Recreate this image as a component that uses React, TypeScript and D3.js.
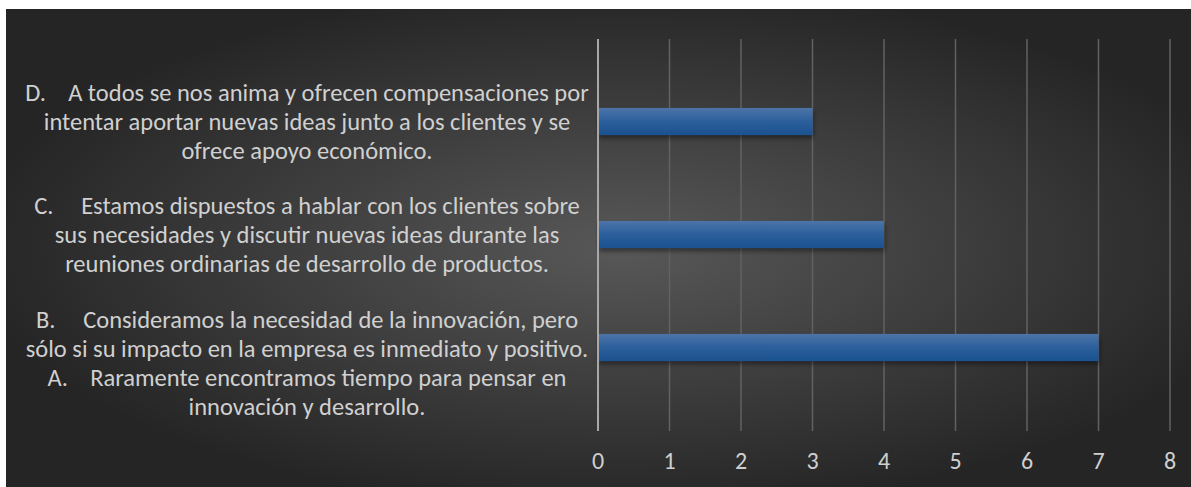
import { useEffect, useRef } from "react";
import * as d3 from "d3";

const categories = ["A", "B", "C", "D"];
const values = [0, 7, 4, 3];
const labels = [
  ["A.    Raramente encontramos tiempo para pensar en", "innovación y desarrollo."],
  ["B.     Consideramos la necesidad de la innovación, pero", "sólo si su impacto en la empresa es inmediato y positivo."],
  [
    "C.     Estamos dispuestos a hablar con los clientes sobre",
    "sus necesidades y discutir nuevas ideas durante las",
    "reuniones ordinarias de desarrollo de productos.",
  ],
  [
    "D.    A todos se nos anima y ofrecen compensaciones por",
    "intentar aportar nuevas ideas junto a los clientes y se",
    "ofrece apoyo económico.",
  ],
];
const xTicks = [0, 1, 2, 3, 4, 5, 6, 7, 8];

const FONT = "Carlito, 'Liberation Sans Narrow', 'Noto Sans', sans-serif";

export default function App() {
  const svgRef = useRef<SVGSVGElement | null>(null);

  useEffect(() => {
    const width = 1191;
    const height = 487;
    const svg = d3.select(svgRef.current);
    svg.selectAll("*").remove();
    svg.attr("width", width).attr("height", height);

    const defs = svg.append("defs");
    const bg = defs
      .append("radialGradient")
      .attr("id", "bg")
      .attr("cx", "52%")
      .attr("cy", "50%")
      .attr("r", "55%");
    bg.append("stop").attr("offset", "0%").attr("stop-color", "#585858");
    bg.append("stop").attr("offset", "100%").attr("stop-color", "#252525");

    const barGrad = defs
      .append("linearGradient")
      .attr("id", "bar")
      .attr("x1", 0)
      .attr("y1", 0)
      .attr("x2", 0)
      .attr("y2", 1);
    barGrad.append("stop").attr("offset", "0%").attr("stop-color", "#4c74a8");
    barGrad.append("stop").attr("offset", "50%").attr("stop-color", "#2c5f9b");
    barGrad.append("stop").attr("offset", "100%").attr("stop-color", "#1a518f");

    const shadow = defs
      .append("filter")
      .attr("id", "shadow")
      .attr("x", "-10%")
      .attr("y", "-50%")
      .attr("width", "120%")
      .attr("height", "200%");
    shadow
      .append("feDropShadow")
      .attr("dx", 1)
      .attr("dy", 3)
      .attr("stdDeviation", 2.5)
      .attr("flood-color", "#000")
      .attr("flood-opacity", 0.45);

    svg
      .append("rect")
      .attr("x", 6)
      .attr("y", 9)
      .attr("width", width - 6)
      .attr("height", height - 9)
      .attr("fill", "url(#bg)");

    const plotTop = 39;
    const plotBottom = 431;

    const x = d3.scaleLinear().domain([0, 8]).range([598, 1170]);
    const y = d3
      .scaleBand()
      .domain(categories)
      .range([517, 65])
      .paddingInner(0.76)
      .paddingOuter(0.38);

    // gridlines
    svg
      .append("g")
      .selectAll("line")
      .data(xTicks.filter((t) => t > 0))
      .join("line")
      .attr("x1", (d) => x(d))
      .attr("x2", (d) => x(d))
      .attr("y1", plotTop)
      .attr("y2", plotBottom)
      .attr("stroke", "#626262")
      .attr("stroke-width", 1.5);

    // bars
    svg
      .append("g")
      .selectAll("rect")
      .data(categories.map((c, i) => ({ c, v: values[i] })).filter((d) => d.v > 0))
      .join("rect")
      .attr("x", x(0))
      .attr("y", (d) => y(d.c)!)
      .attr("width", (d) => x(d.v) - x(0))
      .attr("height", y.bandwidth())
      .attr("fill", "url(#bar)")
      .attr("filter", "url(#shadow)");

    // value axis line
    svg
      .append("line")
      .attr("x1", x(0))
      .attr("x2", x(0))
      .attr("y1", plotTop)
      .attr("y2", plotBottom)
      .attr("stroke", "#a8a8a8")
      .attr("stroke-width", 2);

    // tick labels
    svg
      .append("g")
      .selectAll("text")
      .data(xTicks)
      .join("text")
      .attr("x", (d) => x(d))
      .attr("y", 469)
      .attr("text-anchor", "middle")
      .attr("fill", "#cfcfcf")
      .style("font-family", FONT)
      .style("font-size", "24px")
      .text((d) => String(d));

    // category labels, pushed upward when they would overflow
    const lineH = 29;
    const labelX = 307;
    let limit = plotBottom - 10;
    for (let i = 0; i < categories.length; i++) {
      const lines = labels[i];
      const center = y(categories[i])! + y.bandwidth() / 2;
      let bottom = center + (lines.length * lineH) / 2;
      if (bottom > limit) bottom = limit;
      const top = bottom - lines.length * lineH;
      limit = top;
      const t = svg
        .append("text")
        .attr("text-anchor", "middle")
        .attr("fill", "#d0d0d0")
        .style("font-family", FONT)
        .style("font-size", "24.5px")
        .style("white-space", "pre");
      lines.forEach((ln, j) => {
        t.append("tspan")
          .attr("x", labelX)
          .attr("y", top + j * lineH + lineH / 2 + 8)
          .text(ln);
      });
    }
  }, []);

  return (
    <div style={{ position: "absolute", left: 0, top: 0, background: "#fff" }}>
      <svg ref={svgRef} role="img" aria-label="Horizontal bar chart"></svg>
    </div>
  );
}
